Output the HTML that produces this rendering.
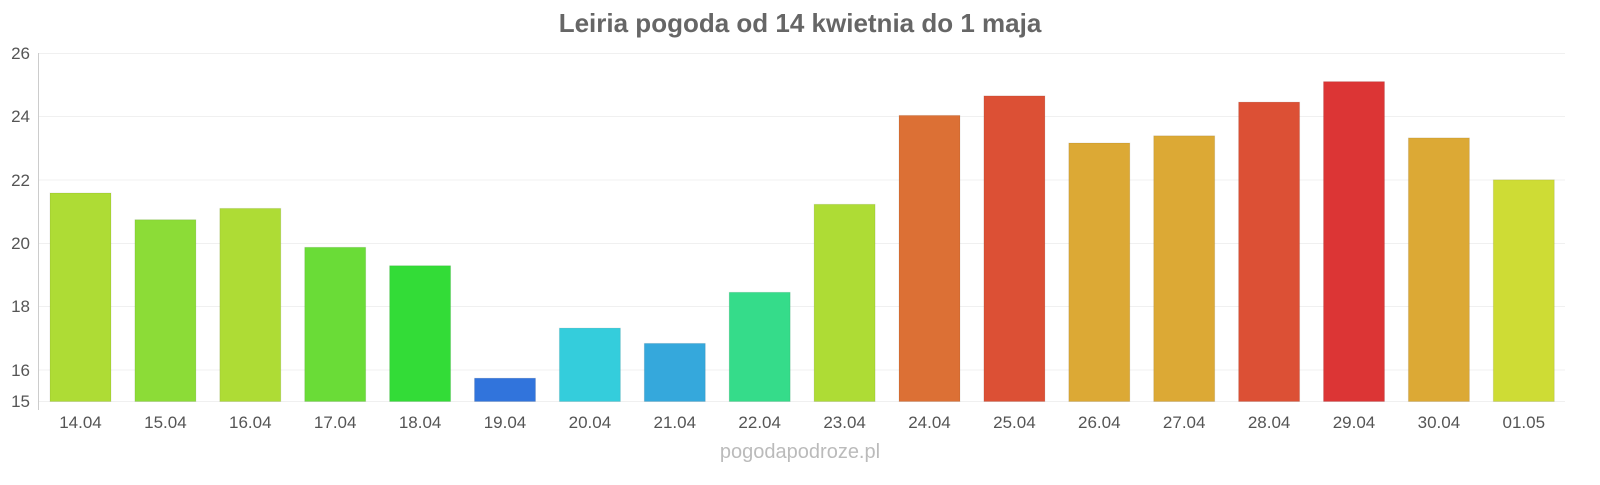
<!DOCTYPE html>
<html><head><meta charset="utf-8"><style>
body{margin:0;background:#fff;width:1600px;height:480px;overflow:hidden}
svg text{font-family:"Liberation Sans",sans-serif}
</style></head><body>
<svg width="1600" height="480" xmlns="http://www.w3.org/2000/svg">
<text x="800" y="32" text-anchor="middle" font-size="26" font-weight="bold" fill="#666">Leiria pogoda od 14 kwietnia do 1 maja</text>
<g stroke="#f0f0f0" stroke-width="1">
<line x1="38" x2="1565" y1="53.5" y2="53.5"/><line x1="38" x2="1565" y1="116.5" y2="116.5"/>
<line x1="38" x2="1565" y1="180" y2="180"/><line x1="38" x2="1565" y1="243.5" y2="243.5"/>
<line x1="38" x2="1565" y1="306.5" y2="306.5"/><line x1="38" x2="1565" y1="370" y2="370"/>
<line x1="38" x2="1565" y1="401.5" y2="401.5"/>
</g>
<line x1="38.5" x2="38.5" y1="53" y2="410" stroke="#ccc"/>
<g font-size="17" fill="#555" text-anchor="end">
<text x="30" y="59">26</text><text x="30" y="122">24</text><text x="30" y="186">22</text>
<text x="30" y="249">20</text><text x="30" y="312">18</text><text x="30" y="376">16</text><text x="30" y="407">15</text>
</g>
<g id="bars"></g>
<g id="labels" font-size="17" fill="#555" text-anchor="middle"></g>
<text x="800" y="458" text-anchor="middle" font-size="20" fill="#bbb">pogodapodroze.pl</text>
</svg>
<script>
var tops=[193,219.7,208.4,247.3,265.7,378.2,328.1,343.4,292.3,204.3,115.4,95.9,143,135.8,102.1,81.6,137.9,179.8];
var cols=["#aedc35","#8cdc37","#aedc35","#6adc37","#33dc37","#3174dc","#34cddc","#35a8dc","#35dc8a","#aedc35","#dc7035","#dc5035","#dca935","#dca935","#dc5035","#dc3535","#dca935","#cedc35"];
var labs=["14.04","15.04","16.04","17.04","18.04","19.04","20.04","21.04","22.04","23.04","24.04","25.04","26.04","27.04","28.04","29.04","30.04","01.05"];
var ns="http://www.w3.org/2000/svg",b=document.getElementById("bars"),l=document.getElementById("labels");
for(var i=0;i<18;i++){var x=50+i*84.9;var r=document.createElementNS(ns,"rect");
r.setAttribute("x",x);r.setAttribute("y",tops[i]);r.setAttribute("width",61);r.setAttribute("height",401.5-tops[i]);
r.setAttribute("fill",cols[i]);r.setAttribute("stroke","rgba(0,0,0,0.08)");b.appendChild(r);
var t=document.createElementNS(ns,"text");t.setAttribute("x",x+30.5);t.setAttribute("y",428);t.textContent=labs[i];l.appendChild(t);}
</script>
</body></html>
